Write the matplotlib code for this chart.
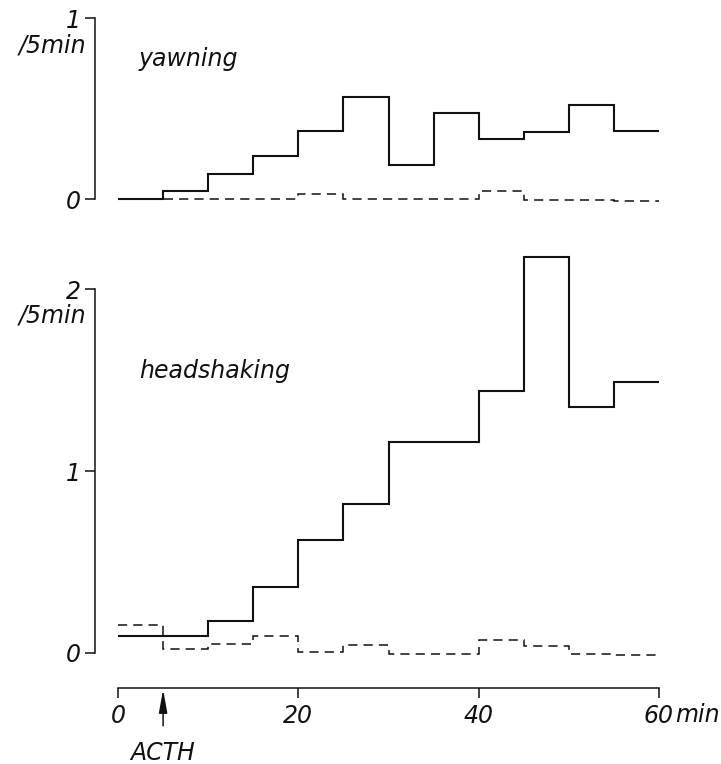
import matplotlib
matplotlib.use("Agg")
import matplotlib.pyplot as plt

# 5-min bins after start of observation
edges = [0, 5, 10, 15, 20, 25, 30, 35, 40, 45, 50, 55, 60]

# yawning per 5 min: ACTH (solid) and control (dashed)
yawn_acth = [0.0, 0.045, 0.14, 0.24, 0.375, 0.565, 0.19, 0.475, 0.33, 0.37, 0.52, 0.375]
yawn_ctrl = [0.0, 0.0, 0.0, 0.0, 0.027, 0.0, 0.0, 0.0, 0.043, -0.005, -0.008, -0.01]

# headshaking per 5 min
head_acth = [0.095, 0.095, 0.175, 0.365, 0.62, 0.82, 1.16, 1.16, 1.44, 2.175, 1.35, 1.49]
head_ctrl = [0.152, 0.024, 0.051, 0.092, 0.004, 0.042, -0.004, -0.004, 0.071, 0.037, -0.004, -0.01]

xticks = [0, 20, 40, 60]
xticklabels = ["0", "20", "40", "60"]
acth_time = 5

plt.rcParams["font.family"] = ["DejaVu Sans"]
plt.rcParams["font.style"] = "italic"
fs = 17
ink = "#111111"

fig = plt.figure(figsize=(7.21, 7.64), dpi=100)
ax1 = fig.add_axes([0.1318, 0.7395, 0.7822, 0.2369])
ax2 = fig.add_axes([0.1318, 0.1453, 0.7822, 0.4764])


def style_axis(ax, yticks, ylabels):
    for s in ["top", "right", "bottom"]:
        ax.spines[s].set_visible(False)
    ax.spines["left"].set_linewidth(1.1)
    ax.spines["left"].set_color(ink)
    ax.set_xlim(-2.55, 60)
    ax.set_yticks(yticks)
    ax.set_yticklabels(ylabels, fontsize=fs, fontstyle="italic", color=ink)
    ax.tick_params(axis="y", direction="out", length=7, width=1.1, pad=3, color=ink)
    ax.patch.set_alpha(0)


def draw_steps(ax, acth, ctrl):
    ax.stairs(acth, edges, baseline=None, color=ink, lw=1.5, clip_on=False)
    st = ax.stairs(ctrl, edges, baseline=None, color=ink, lw=1.1, clip_on=False)
    st.set_linestyle((0, (6, 4)))


# yawning
draw_steps(ax1, yawn_acth, yawn_ctrl)
style_axis(ax1, [0, 1], ["0", "1"])
ax1.set_ylim(0, 1)
ax1.set_xticks([])
ax1.text(2.3, 0.735, "yawning", fontsize=fs, fontstyle="italic", color=ink, va="baseline")
ax1.annotate("/5min", xy=(0, 1), xycoords="axes fraction", xytext=(-6, -19.5),
             textcoords="offset points", ha="right", va="center",
             fontsize=fs, fontstyle="italic", color=ink)

# headshaking
draw_steps(ax2, head_acth, head_ctrl)
style_axis(ax2, [0, 1, 2], ["0", "1", "2"])
ax2.set_ylim(0, 2)
ax2.text(2.3, 1.51, "headshaking", fontsize=fs, fontstyle="italic", color=ink, va="baseline")
ax2.annotate("/5min", xy=(0, 1), xycoords="axes fraction", xytext=(-6, -19),
             textcoords="offset points", ha="right", va="center",
             fontsize=fs, fontstyle="italic", color=ink)

# time axis below the lower panel
ax2.spines["bottom"].set_visible(True)
ax2.spines["bottom"].set_position(("outward", 25.5))
ax2.spines["bottom"].set_bounds(0, 60)
ax2.spines["bottom"].set_linewidth(1.1)
ax2.spines["bottom"].set_color(ink)
ax2.set_xticks(xticks)
ax2.set_xticklabels(xticklabels, fontsize=fs, fontstyle="italic", color=ink)
ax2.tick_params(axis="x", direction="out", length=7, width=1.1, pad=4, color=ink)
ax2.annotate("min", xy=(60, 0), xycoords=("data", "axes fraction"), xytext=(12, -44.5),
             textcoords="offset points", ha="left", va="center",
             fontsize=fs, fontstyle="italic", color=ink, annotation_clip=False)

# ACTH injection arrow
ax2.annotate("ACTH", xy=(acth_time, -0.1), xycoords=("data", "axes fraction"),
             xytext=(acth_time, -0.275), textcoords=("data", "axes fraction"),
             ha="center", va="center", fontsize=fs, fontstyle="italic", color=ink,
             annotation_clip=False,
             arrowprops=dict(arrowstyle="-|>,head_length=1.0,head_width=0.18",
                             color=ink, lw=1.1, shrinkA=9, shrinkB=0,
                             mutation_scale=14))

fig.savefig("out.png", dpi=100, facecolor="white")
